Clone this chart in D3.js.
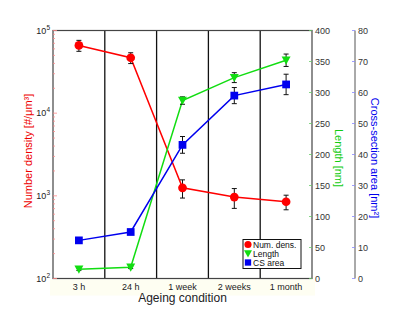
<!DOCTYPE html>
<html><head><meta charset="utf-8">
<script src="https://cdn.jsdelivr.net/npm/d3@7"></script>
<style>body{margin:0;background:#fff}svg{display:block;font-family:"Liberation Sans",Arial,sans-serif}</style>
</head><body><svg id="c" width="416" height="310"></svg>
<script>
const categories = ["3 h","24 h","1 week","2 weeks","1 month"];
const numDens = [66000, 46800, 1250, 965, 848];
const numDensErr = [10000, 7000, 310, 260, 170];
const lengthVals = [15, 18, 287, 324, 352];
const lengthErr = [2, 2, 6, 8, 10];
const csArea = [12.3, 15.0, 43.1, 59.0, 62.6];
const csAreaErr = [0.5, 0.5, 2.7, 2.6, 3.3];
const leftTicks = [100, 1000, 10000, 100000];
const lengthTicks = [0,50,100,150,200,250,300,350,400];
const csTicks = [0,10,20,30,40,50,60,70,80];
const legendLabels = ["Num. dens.","Length","CS area"];

const svg = d3.select("#c");
const L=53, R=312, T=30.5, B=278.5, R2=355;
const x = d3.scaleBand().domain(categories).range([L,R]);
const cx = d => x(d)+x.bandwidth()/2;
const yL = d3.scaleLog().domain([100,1e5]).range([B,T]);
const yLen = d3.scaleLinear().domain([0,400]).range([B,T]);
const yCS = d3.scaleLinear().domain([0,80]).range([B,T]);

// cream background under x labels
svg.append("rect").attr("x",L-3).attr("y",B+1).attr("width",R-L+6).attr("height",16).attr("fill","#fefef2");

// separators
categories.slice(1).forEach(c=>{
  svg.append("line").attr("x1",x(c)).attr("x2",x(c)).attr("y1",T).attr("y2",B).attr("stroke","#111").attr("stroke-width",1.3);
});
// frame
svg.append("rect").attr("x",L).attr("y",T).attr("width",R-L).attr("height",B-T).attr("fill","none").attr("stroke","#444").attr("stroke-width",1.2);

// left axis
const gL = svg.append("g").attr("transform",`translate(${L},0)`);
const minor=[];
for(let e=2;e<5;e++) for(let k=2;k<10;k++) minor.push(k*Math.pow(10,e));
gL.selectAll(".mn").data(minor).enter().append("line").attr("x1",0).attr("x2",2).attr("y1",d=>yL(d)).attr("y2",d=>yL(d)).attr("stroke","#f88").attr("stroke-width",0.8);
gL.selectAll(".mj").data(leftTicks).enter().append("line").attr("x1",0).attr("x2",4).attr("y1",d=>yL(d)).attr("y2",d=>yL(d)).attr("stroke","#f88").attr("stroke-width",0.8);
const lt = gL.selectAll(".lt").data(leftTicks).enter().append("text").attr("x",-3).attr("y",d=>yL(d)+3).attr("text-anchor","end").attr("font-size",9).attr("fill","#222");
lt.append("tspan").text("10");
lt.append("tspan").attr("dy",-4).attr("font-size",6.5).text(d=>Math.round(Math.log10(d)));

// length axis (right)
const gR = svg.append("g");
gR.selectAll(".t").data(lengthTicks).enter().append("line").attr("x1",R-3).attr("x2",R).attr("y1",d=>yLen(d)).attr("y2",d=>yLen(d)).attr("stroke","#6c6").attr("stroke-width",0.8);
gR.selectAll(".tl").data(lengthTicks).enter().append("text").attr("x",R+3).attr("y",d=>yLen(d)+3).attr("font-size",9).attr("fill","#333").text(d=>d);

// cs axis
const gC = svg.append("g");
gC.append("line").attr("x1",R2).attr("x2",R2).attr("y1",T).attr("y2",B).attr("stroke","#555").attr("stroke-width",1);
gC.selectAll(".t").data(csTicks).enter().append("line").attr("x1",R2-3).attr("x2",R2).attr("y1",d=>yCS(d)).attr("y2",d=>yCS(d)).attr("stroke","#88f").attr("stroke-width",0.8);
gC.selectAll(".tl").data(csTicks).enter().append("text").attr("x",R2+3).attr("y",d=>yCS(d)+3).attr("font-size",9).attr("fill","#333").text(d=>d);

// x tick labels
svg.selectAll(".xl").data(categories).enter().append("text").attr("x",cx).attr("y",B+11).attr("text-anchor","middle").attr("font-size",9).attr("fill","#222").text(d=>d);
svg.append("text").attr("x",(L+R)/2).attr("y",302).attr("text-anchor","middle").attr("font-size",12).attr("fill","#222").text("Ageing condition");

// axis titles
svg.append("text").attr("transform","translate(32,151) rotate(-90)").attr("text-anchor","middle").attr("font-size",11).attr("fill","#e00").text("Number density [#/μm³]");
svg.append("text").attr("transform","translate(335,158) rotate(90)").attr("text-anchor","middle").attr("font-size",11).attr("fill","#1c1").text("Length [nm]");
svg.append("text").attr("transform","translate(371,158) rotate(90)").attr("text-anchor","middle").attr("font-size",11).attr("fill","#00e").text("Cross-section area [nm²]");

function series(vals, errs, y, color, sym, size){
  const pts = categories.map((c,i)=>({x:cx(c), v:vals[i], e:errs[i]}));
  svg.append("path").datum(pts).attr("d",d3.line().x(d=>d.x).y(d=>y(d.v))).attr("fill","none").attr("stroke",color).attr("stroke-width",1.5);
  const g = svg.append("g");
  pts.forEach(p=>{
    const y1=y(p.v+p.e), y2=y(Math.max(p.v-p.e,1e-9));
    g.append("line").attr("x1",p.x).attr("x2",p.x).attr("y1",y1).attr("y2",y2).attr("stroke","#111").attr("stroke-width",1);
    [y1,y2].forEach(yy=>g.append("line").attr("x1",p.x-2.5).attr("x2",p.x+2.5).attr("y1",yy).attr("y2",yy).attr("stroke","#111").attr("stroke-width",1));
  });
  svg.append("g").selectAll("path").data(pts).enter().append("path")
    .attr("transform",d=>`translate(${d.x},${y(d.v)})`)
    .attr("d",d3.symbol().type(sym).size(size)).attr("fill",color);
}
const triDown = {draw(ctx,size){const s=Math.sqrt(size*1.6);ctx.moveTo(-s/2,-s/2.4);ctx.lineTo(s/2,-s/2.4);ctx.lineTo(0,s/2);ctx.closePath();}};
series(numDens, numDensErr, yL, "#f00", d3.symbolCircle, 60);
series(lengthVals, lengthErr, yLen, "#1d1", triDown, 50);
series(csArea, csAreaErr, yCS, "#00e", d3.symbolSquare, 60);

// legend
const lg = svg.append("g").attr("transform","translate(243,239.5)");
lg.append("rect").attr("width",58).attr("height",29).attr("fill","#fff").attr("stroke","#111").attr("stroke-width",1);
const syms=[d3.symbolCircle,triDown,d3.symbolSquare], cols=["#f00","#1d1","#00e"];
legendLabels.forEach((t,i)=>{
  lg.append("path").attr("transform",`translate(5,${5+i*9})`).attr("d",d3.symbol().type(syms[i]).size(40)).attr("fill",cols[i]);
  lg.append("text").attr("x",10).attr("y",8.5+i*9).attr("font-size",8.5).attr("fill","#111").text(t);
});
</script></body></html>
